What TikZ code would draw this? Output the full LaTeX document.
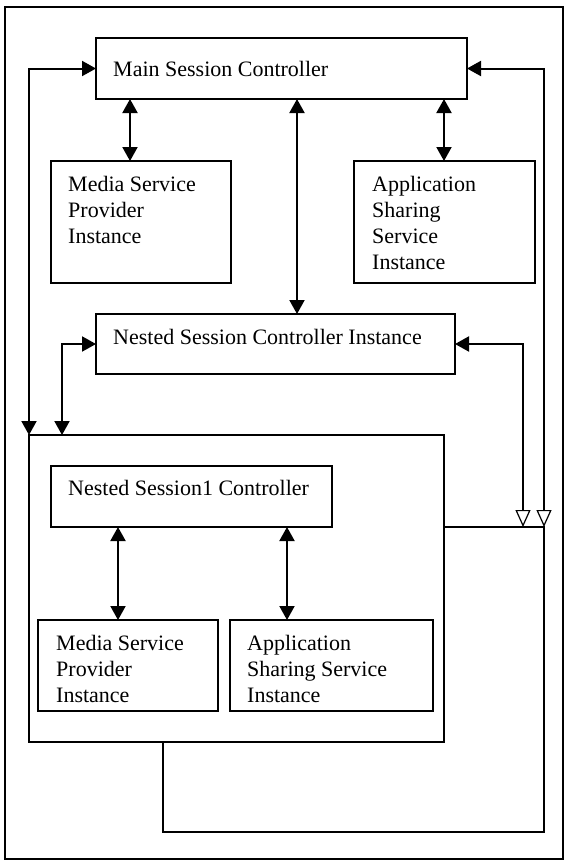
\documentclass[tikz,border=0pt]{standalone}
\usepackage{fontspec}
\setmainfont{Liberation Serif}
\usetikzlibrary{arrows.meta}
\tikzset{
  fil/.tip={Triangle[length=14pt,width=15pt]},
  hol/.tip={Triangle[open,length=17pt,width=15pt,line width=1.2pt,fill=white]}
}
\begin{document}
\begin{tikzpicture}[x=1pt,y=-1pt,
  box/.style={draw=black,line width=2.2pt,rectangle,inner sep=0pt,outer sep=0pt,anchor=north west},
  lbl/.style={anchor=base west,inner sep=0pt,align=left,font=\fontsize{22}{26}\selectfont},
  conn/.style={line width=2pt,black},
  dbl/.style={conn,fil-fil}
]
\useasboundingbox (0,0) rectangle (564,860);
% outer frame
\node[box,minimum width=558pt,minimum height=852pt,line width=1.8pt] (frame) at (5,7) {};
% boxes
\node[box,minimum width=371pt,minimum height=61pt] (main) at (96,38) {};
\node[box,minimum width=180pt,minimum height=122pt] (msp1) at (51,161) {};
\node[box,minimum width=181pt,minimum height=122pt] (ass1) at (354,161) {};
\node[box,minimum width=359pt,minimum height=60pt] (nested) at (96,314) {};
\node[box,minimum width=415pt,minimum height=307pt] (big) at (29,435) {};
\node[box,minimum width=281pt,minimum height=61pt] (n1) at (51,466) {};
\node[box,minimum width=180pt,minimum height=91pt] (msp2) at (38,620) {};
\node[box,minimum width=203pt,minimum height=91pt] (ass2) at (230,620) {};
% labels (base anchor = baseline of last line)
\node[lbl] (tmain) at (113,76) {Main Session Controller};
\node[lbl] (tmsp1) at (68,243) {Media Service\\Provider\\Instance};
\node[lbl] (tass1) at (372,269) {Application\\Sharing\\Service\\Instance};
\node[lbl] (tnested) at (113,344) {Nested Session Controller Instance};
\node[lbl] (tn1) at (68,495) {Nested Session1 Controller};
\node[lbl] (tmsp2) at (56,702) {Media Service\\Provider\\Instance};
\node[lbl] (tass2) at (247,702) {Application\\Sharing Service\\Instance};
% junction coordinates
\coordinate (j1) at (523,527);
\coordinate (j2) at (544,527);
\coordinate (b1) at (544,832);
\coordinate (b2) at (163,832);
% vertical double arrows
\draw[dbl] (130,0 |- main.south) -- (130,0 |- msp1.north);
\draw[dbl] (444,0 |- main.south) -- (444,0 |- ass1.north);
\draw[dbl] (297,0 |- main.south) -- (297,0 |- nested.north);
\draw[dbl] (118,0 |- n1.south) -- (118,0 |- msp2.north);
\draw[dbl] (287,0 |- n1.south) -- (287,0 |- ass2.north);
% left loops
\draw[dbl] (main.west) -| (big.north west);
\draw[dbl] (nested.west) -| (62,0 |- big.north);
% right loops
\draw[conn,fil-hol] (main.east) -| (j2);
\draw[conn,fil-hol] (nested.east) -| (j1);
\draw[conn] (big.east |- j2) -- (j2) -- (b1) -- (b2) -- (b2 |- big.south);
\end{tikzpicture}
\end{document}
